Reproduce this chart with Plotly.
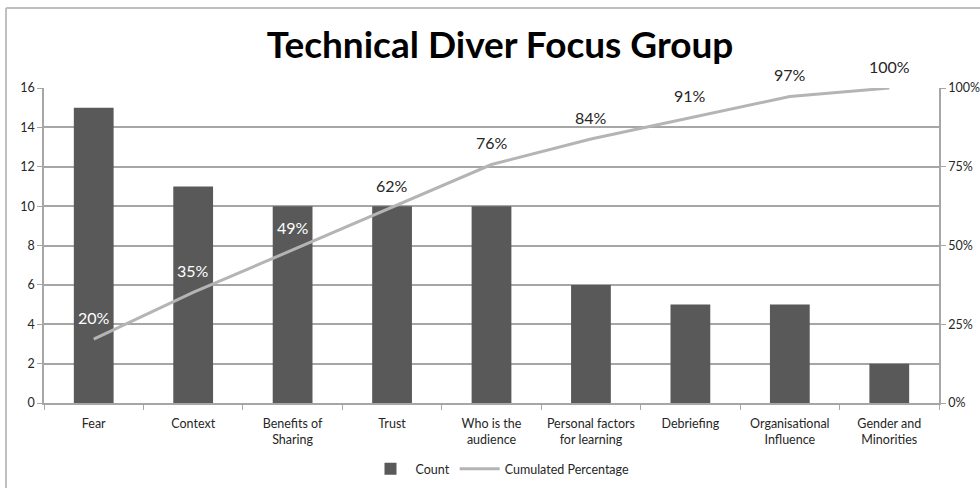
import plotly.graph_objects as go

categories = ["Fear", "Context", "Benefits of<br>Sharing", "Trust", "Who is the<br>audience",
              "Personal factors<br>for learning", "Debriefing", "Organisational<br>Influence",
              "Gender and<br>Minorities"]
counts = [15, 11, 10, 10, 10, 6, 5, 5, 2]
cum_pct = [20.3, 35.1, 48.6, 62.2, 75.7, 83.8, 90.5, 97.3, 100.0]
cum_labels = ["20%", "35%", "49%", "62%", "76%", "84%", "91%", "97%", "100%"]
label_colors = ["white", "white", "white", "#262626", "#262626", "#262626", "#262626", "#262626", "#262626"]

W, H = 980, 488
L, R, T, B = 44, 41, 88, 85
pw, ph = W - L - R, H - T - B

fig = go.Figure()
fig.add_trace(go.Bar(x=categories, y=counts, name="Count", marker=dict(color="#595959", line=dict(width=0)),
                     yaxis="y"))
fig.add_trace(go.Scatter(x=categories, y=cum_pct, name="Cumulated Percentage", mode="lines",
                         line=dict(color="#b4b4b4", width=3), yaxis="y2"))

for c, v, t, col in zip(categories, cum_pct, cum_labels, label_colors):
    fig.add_annotation(x=c, y=v, xref="x", yref="y2", text=t, showarrow=False, yshift=22,
                       font=dict(color=col, size=16, family="Lato"))

fig.update_layout(
    width=W, height=H,
    margin=dict(l=L, r=R, t=T, b=B, autoexpand=False),
    paper_bgcolor="white", plot_bgcolor="white",
    font=dict(family="Lato", size=12, color="#262626"),
    title=dict(text="<b>Technical Diver Focus Group</b>", x=500 / W, xanchor="center",
               y=1 - 45 / H, yanchor="middle", font=dict(size=37, family="Lato", color="black")),
    bargap=0.6,
    showlegend=True,
    legend=dict(orientation="h", x=(500 - L) / pw, xanchor="center", y=-(469 - 403) / ph, yanchor="middle",
                font=dict(size=12.5), itemwidth=40),
    xaxis=dict(type="category", showline=True, linecolor="#a6a6a6", linewidth=1.5,
               ticks="outside", tickson="boundaries", ticklen=5, tickcolor="#a6a6a6",
               showgrid=False, tickfont=dict(size=12.5), automargin=False, ticklabelstandoff=8),
    yaxis=dict(range=[0, 16], dtick=2, showgrid=True, gridcolor="#a6a6a6", gridwidth=1.5,
               showline=True, linecolor="#a6a6a6", linewidth=1.5, ticks="outside", ticklen=5,
               tickcolor="#a6a6a6", zeroline=False, tickfont=dict(size=12.5), automargin=False),
    yaxis2=dict(range=[0, 100], dtick=25, overlaying="y", side="right", showgrid=False,
                showline=True, linecolor="#a6a6a6", linewidth=1.5, ticks="outside", ticklen=5,
                tickcolor="#a6a6a6", ticksuffix="%", zeroline=False, tickfont=dict(size=12.5),
                automargin=False),
)

# outer chart frame (left and top edges visible)
fig.add_shape(type="line", xref="paper", yref="paper", x0=(6 - L) / pw, x1=(W + 5 - L) / pw,
              y0=1 + (T - 8) / ph, y1=1 + (T - 8) / ph, line=dict(color="#bfbfbf", width=2))
fig.add_shape(type="line", xref="paper", yref="paper", x0=(6 - L) / pw, x1=(6 - L) / pw,
              y0=1 + (T - 8) / ph, y1=-(H + 5 - T - ph) / ph, line=dict(color="#bfbfbf", width=2))

fig.write_html("out.html")
